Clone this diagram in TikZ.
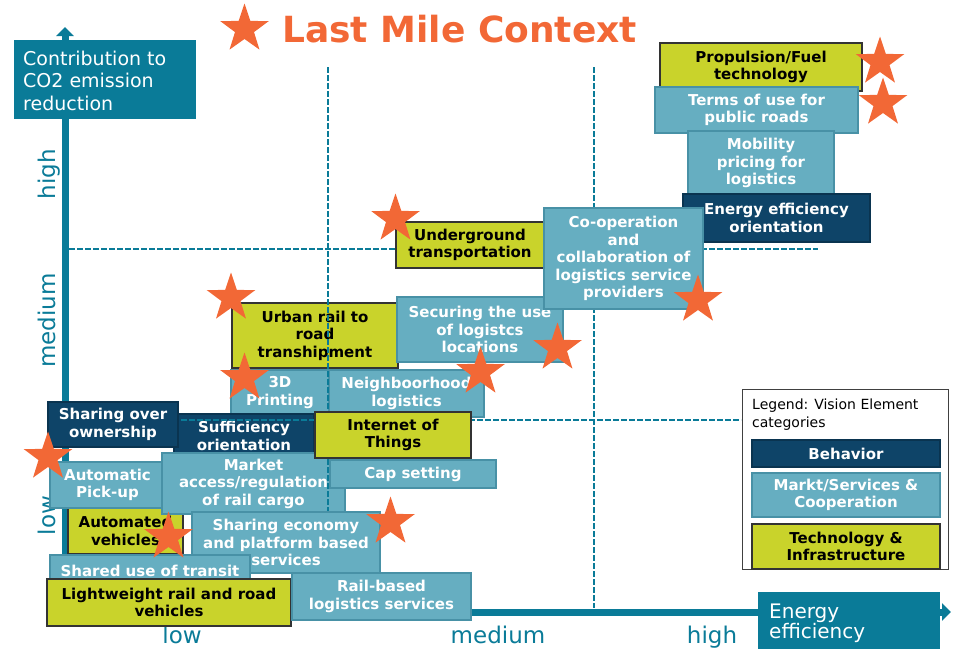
\documentclass[tikz,border=0pt]{standalone}
\usepackage{fontspec}
\setmainfont{DejaVu Sans}
\usetikzlibrary{shapes.geometric,arrows.meta}

\definecolor{axisteal}{RGB}{10,123,152}
\definecolor{navy}{RGB}{14,68,104}
\definecolor{navyedge}{RGB}{10,52,80}
\definecolor{lightblue}{RGB}{102,174,193}
\definecolor{lightedge}{RGB}{72,145,166}
\definecolor{limegreen}{RGB}{201,211,43}
\definecolor{staror}{RGB}{242,104,54}

\newcommand{\boxfont}{\fontsize{15}{17.5}\selectfont\bfseries}
\newcommand{\axfont}{\fontsize{23}{27}\selectfont}
\newcommand{\headfont}{\fontsize{19}{22.5}\selectfont}

\begin{document}
\begin{tikzpicture}[x=1pt,y=-1pt,
  axisline/.style={draw=axisteal,line width=7pt,-{Triangle[width=17pt,length=9pt]}},
  grid/.style={draw=axisteal,line width=2.2pt,dash pattern=on 6pt off 2pt},
  cbox/.style={draw,line width=1.2pt,inner sep=1pt,outer sep=0pt,align=center,anchor=north west,font=\boxfont},
  lbox/.style={cbox,fill=lightblue,draw=lightedge,text=white},
  nbox/.style={cbox,fill=navy,draw=navyedge,text=white},
  ybox/.style={cbox,fill=limegreen,draw=black!80,text=black},
  axbox/.style={fill=axisteal,inner sep=0pt,outer sep=0pt,anchor=north west},
  headtext/.style={anchor=base west,inner sep=0pt,text=white,font=\headfont},
  axlabel/.style={inner sep=0pt,text=axisteal,font=\axfont},
  starmark/.style={star,star points=5,star point ratio=2.55,fill=staror,draw=none,inner sep=0pt,minimum size=51pt},
  legtext/.style={anchor=base west,inner sep=0pt,font=\fontsize{14}{17}\selectfont}
]
\useasboundingbox (0,0) rectangle (954,649);

% ---- axes ----
\coordinate (O) at (65,612);
\coordinate (ytop) at (65,27);
\coordinate (xend) at (951,612);
\draw[axisline] (O) -- (ytop);
\draw[axisline] (O) -- (xend);

% axis titles
\node[axbox,minimum width=182pt,minimum height=79pt] (contrib) at (14,40) {};
\node[headtext] (contrib1) at (23,65) {Contribution to};
\node[headtext] (contrib2) at (23,87.5) {CO2 emission};
\node[headtext] (contrib3) at (23,110) {reduction};

\node[axbox,minimum width=182pt,minimum height=57pt] (energy) at (758,592) {};
\node[headtext,font=\fontsize{20}{22}\selectfont] (energy1) at (769,618) {Energy};
\node[headtext,font=\fontsize{20}{22}\selectfont] (energy2) at (769,638.5) {efficiency};

% axis scale labels
\node[axlabel,rotate=90,anchor=base] (yhigh) at (55,174) {high};
\node[axlabel,rotate=90,anchor=base] (ymed) at (55,320.5) {medium};
\node[axlabel,rotate=90,anchor=base] (ylow) at (55,515.5) {low};
\node[axlabel,anchor=base] (xlow) at (182,643) {low};
\node[axlabel,anchor=base] (xmed) at (498,643) {medium};
\node[axlabel,anchor=base] (xhigh) at (712,643) {high};

% ---- elements lying under the grid lines ----
\node[ybox,minimum width=166pt,minimum height=65pt] (urban) at (232,303) {Urban rail to\\road\\transhipment};
\node[lbox,minimum width=166pt,minimum height=65pt] (secur) at (397,297) {Securing the use\\of logistcs\\locations};
\node[lbox,minimum width=98pt,minimum height=45pt] (print) at (231,370) {3D\\Printing};
\node[lbox,minimum width=155pt,minimum height=47pt] (neigh) at (329,370) {Neighboorhood\\logistics};
\node[nbox,minimum width=140pt,minimum height=44pt] (suff) at (174,414) {Sufficiency\\orientation};
\node[ybox,minimum width=115pt,minimum height=46pt] (autov) at (68,508) {Automated\\vehicles};
\node[lbox,minimum width=115pt,minimum height=46pt] (pick) at (50,462) {Automatic\\Pick-up};
\node[lbox,minimum width=183pt,minimum height=61pt] (market) at (162,453) {Market\\access/regulation\\of rail cargo};

% ---- grid lines ----
\coordinate (v1t) at (328,67);  \coordinate (v1b) at (328,608);
\coordinate (v2t) at (594,67);  \coordinate (v2b) at (594,608);
\coordinate (h1l) at (69,249);  \coordinate (h1r) at (818,249);
\coordinate (h2l) at (69,420);  \coordinate (h2r) at (741,420);
\draw[grid] (v1t) -- (v1b);
\draw[grid] (v2t) -- (v2b);
\draw[grid] (h1l) -- (h1r);
\draw[grid] (h2l) -- (h2r);

% ---- elements lying over the grid lines ----
\node[ybox,minimum width=202pt,minimum height=48pt] (prop) at (660,43) {Propulsion/Fuel\\technology};
\node[lbox,minimum width=203pt,minimum height=46pt] (terms) at (655,87) {Terms of use for\\public roads};
\node[lbox,minimum width=146pt,minimum height=64pt] (mob) at (688,131) {Mobility\\pricing for\\logistics};
\node[nbox,minimum width=187pt,minimum height=48pt] (enef) at (683,194) {Energy efficiency\\orientation};
\node[ybox,minimum width=148pt,minimum height=46pt] (under) at (396,222) {Underground\\transportation};
\node[lbox,minimum width=159pt,minimum height=101pt] (coop) at (544,208) {Co-operation\\and\\collaboration of\\logistics service\\providers};
\node[ybox,minimum width=156pt,minimum height=46pt] (iot) at (315,412) {Internet of\\Things};
\node[lbox,minimum width=166pt,minimum height=28pt] (cap) at (330,460) {Cap setting};
\node[nbox,minimum width=130pt,minimum height=45pt] (share) at (48,402) {Sharing over\\ownership};
\node[lbox,minimum width=188pt,minimum height=61pt] (sharecon) at (192,512) {Sharing economy\\and platform based\\services};
\node[lbox,minimum width=200pt,minimum height=32pt] (transit) at (50,555) {Shared use of transit};
\node[ybox,minimum width=244pt,minimum height=47pt] (light) at (47,579) {Lightweight rail and road\\vehicles};
\node[lbox,minimum width=179pt,minimum height=47pt] (rail) at (292,573) {Rail-based\\logistics services};

% ---- legend ----
\node[draw=black!75,line width=1pt,fill=white,inner sep=0pt,outer sep=0pt,anchor=north west,
      minimum width=206pt,minimum height=180pt] (legend) at (742,389) {};
\node[legtext] (leg1) at (752,409) {Legend: Vision Element};
\node[legtext] (leg2) at (752,427) {categories};
\node[nbox,minimum width=188pt,minimum height=27pt] (legbeh) at (752,440) {Behavior};
\node[lbox,minimum width=188pt,minimum height=44pt] (legmarkt) at (752,473) {Markt/Services \&\\Cooperation};
\node[ybox,minimum width=188pt,minimum height=45pt] (legtech) at (752,524) {Technology \&\\Infrastructure};

% ---- title ----
\node[anchor=base west,inner sep=0pt,text=staror,font=\fontsize{36}{40}\selectfont\bfseries] (title) at (282,42) {Last Mile Context};

% ---- stars ----
\node[starmark] (st0) at (244.5,29) {};
\node[starmark] (st1) at (880,62) {};
\node[starmark] (st2) at (883,103) {};
\node[starmark] (st3) at (395.5,219) {};
\node[starmark] (st4) at (698,300) {};
\node[starmark] (st5) at (557.5,348) {};
\node[starmark] (st6) at (480.5,372) {};
\node[starmark] (st7) at (231,298) {};
\node[starmark] (st8) at (244.5,378) {};
\node[starmark] (st9) at (48,457) {};
\node[starmark] (st10) at (168.5,537) {};
\node[starmark] (st11) at (390.5,522) {};
\end{tikzpicture}
\end{document}
